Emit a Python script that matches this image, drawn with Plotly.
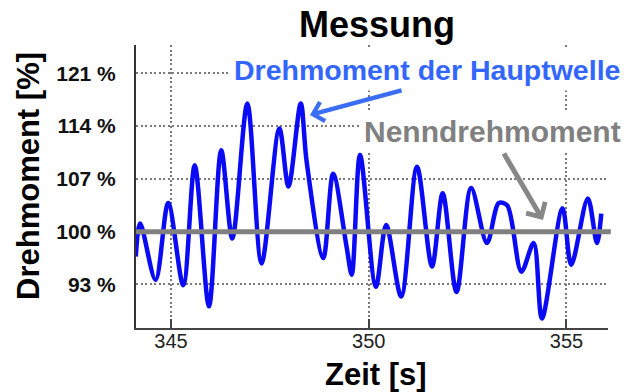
import plotly.graph_objects as go

# ---- data ----
time_s = [344.11, 344.22, 344.61, 344.93, 345.31, 345.60, 345.96, 346.27, 346.55, 346.93,
          347.29, 347.74, 347.97, 348.28, 348.43, 348.85, 349.10, 349.44, 349.57, 349.78,
          350.18, 350.44, 350.82, 351.22, 351.60, 351.87, 352.22, 352.59, 352.99, 353.29,
          353.50, 353.86, 354.17, 354.38, 354.90, 355.12, 355.54, 355.77, 355.88]
torque_pct = [96.7, 101.1, 93.6, 103.8, 92.9, 108.8, 90.1, 110.8, 99.1, 117.0,
              95.8, 113.7, 106.0, 117.0, 109.3, 96.5, 107.7, 98.0, 94.3, 110.2,
              92.7, 100.9, 91.4, 108.6, 95.4, 105.1, 92.0, 105.8, 98.5, 103.8,
              103.5, 94.7, 98.5, 88.5, 103.1, 95.6, 104.4, 98.5, 102.4]
nominal_pct = 100
y_tickvals = [93, 100, 107, 114, 121]
y_ticktext = ["93 %", "100 %", "107 %", "114 %", "121 %"]
x_tickvals = [345, 350, 355]
x_ticktext = ["345", "350", "355"]

FONT = "Liberation Sans, Arial, sans-serif"

fig = go.Figure()
fig.add_trace(go.Scatter(
    x=time_s, y=torque_pct, mode="lines",
    line=dict(color="#0a0af5", width=4.5, shape="spline", smoothing=0.9),
    showlegend=False, hoverinfo="skip"))

fig.add_shape(type="line", xref="paper", yref="y", x0=0, x1=1.006,
              y0=nominal_pct, y1=nominal_pct,
              line=dict(color="#808080", width=5), layer="above")

fig.update_layout(
    width=632, height=392,
    margin=dict(l=136, r=24, t=45, b=64),
    paper_bgcolor="white", plot_bgcolor="white",
    font=dict(family=FONT, color="#111"),
    showlegend=False,
)
fig.update_xaxes(
    range=[344.115, 356.05], tickvals=x_tickvals, ticktext=x_ticktext,
    ticks="inside", ticklen=9, tickwidth=2, tickcolor="#444",
    showline=True, linecolor="#444", linewidth=2,
    showgrid=True, gridcolor="#7a7a7a", gridwidth=1.8, griddash="2px,2.5px",
    zeroline=False, tickfont=dict(size=20, color="#222", family=FONT),
    ticklabelstandoff=-6,
)
fig.update_yaxes(
    range=[87.23, 124.76], tickvals=y_tickvals, ticktext=y_ticktext,
    ticks="", showline=True, linecolor="#333", linewidth=2,
    showgrid=True, gridcolor="#7a7a7a", gridwidth=1.8, griddash="2px,2.5px",
    zeroline=False, tickfont=dict(size=21, color="#111", family=FONT, weight="bold"),
    ticklabelstandoff=14,
)

annots = [
    dict(text="Messung", x=0.5106, y=1.074, size=36, color="#000", bg=None),
    dict(text="Drehmoment der Hauptwelle", x=0.6155, y=0.9134, size=28.5, color="#3366ff", bg="white"),
    dict(text="Nenndrehmoment", x=0.7553, y=0.6926, size=30, color="#808080", bg="white"),
    dict(text="Zeit [s]", x=0.5085, y=-0.163, size=31, color="#000", bg=None),
]
for a in annots:
    fig.add_annotation(
        text=a["text"], xref="paper", yref="paper", x=a["x"], y=a["y"],
        xanchor="center", yanchor="middle", showarrow=False,
        font=dict(size=a["size"], color=a["color"], family=FONT, weight="bold"),
        bgcolor=a["bg"] if a["bg"] else "rgba(0,0,0,0)", borderpad=4)

fig.add_annotation(
    text="Drehmoment [%]", xref="paper", yref="paper", x=(28 - 136) / 472, y=(328 - 176) / 283,
    xanchor="center", yanchor="middle", showarrow=False, textangle=-90,
    font=dict(size=31, color="#000", family=FONT, weight="bold"))

# arrows
fig.add_annotation(text="", x=348.515, y=115.48, xref="x", yref="y", ax=93, ay=-25,
                   showarrow=True, arrowhead=4, arrowsize=0.85, arrowwidth=4.5,
                   arrowcolor="#3a6cf4")
fig.add_annotation(text="", x=354.406, y=101.55, xref="x", yref="y", ax=-40, ay=-68,
                   showarrow=True, arrowhead=4, arrowsize=0.85, arrowwidth=5,
                   arrowcolor="#878787")

fig.write_html("out.html")
